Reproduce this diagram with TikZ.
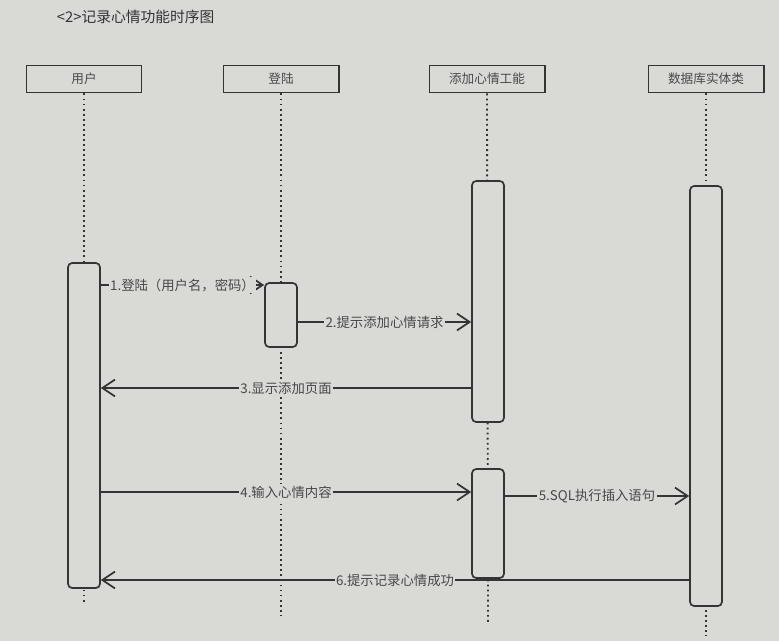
\documentclass[tikz,border=0pt]{standalone}
\usepackage{fontspec}
\newfontfamily\cjk{Noto Sans CJK SC}
\usepackage{xcolor}
\usepackage{tikz}
\usetikzlibrary{arrows.meta}
\usetikzlibrary{positioning}
\definecolor{paper}{RGB}{217,217,214}
\definecolor{ink}{RGB}{52,52,52}
\definecolor{inktext}{RGB}{72,72,72}
\begin{document}
\begin{tikzpicture}[
    x=0.025cm, y=-0.025cm,
    every node/.style={font=\cjk\fontsize{9.5}{11}\selectfont, text=inktext},
    head/.style={draw=ink, line width=1.4pt, fill=paper, minimum width=2.875cm, minimum height=0.675cm, inner sep=0pt, font=\cjk\fontsize{9}{11}\selectfont},
    act/.style={draw=ink, line width=1.2pt, fill=paper, rounded corners=3pt, minimum width=0.8cm, inner sep=0pt},
    life line/.style={draw=ink, line width=1.3pt, dash pattern=on 1.3pt off 2.3pt},
    msg/.style={draw=ink, line width=1.3pt, -{Straight Barb[length=9pt, width=12pt, line width=1.2pt]}},
    msg label/.style={fill=paper, inner sep=1pt},
]

\fill[paper] (0,0) rectangle (779,641);

\node[anchor=west, font=\cjk\fontsize{10.5}{12}\selectfont, text=ink] (title) at (52,17) {<2>记录心情功能时序图};

\node[head] (user) at (84,79) {用户};
\node[head] (login) at (281,79) {登陆};
\node[head] (add) at (487,79) {添加心情工能};
\node[head] (db) at (706,79) {数据库实体类};

\coordinate (user end) at (84,604);
\coordinate (login end) at (281,615);
\coordinate (add end) at (488,622);
\coordinate (db end) at (706,636);

\draw[life line] (user.south) -- (user end);
\draw[life line] (login.south) -- (login end);
\draw[life line] (add.south) -- (add end);
\draw[life line] (db.south) -- (db end);

\node[act, minimum height=8.125cm] (ua) at (84,425.5) {};
\node[act, minimum height=1.6cm] (la) at (281,315) {};
\node[act, minimum height=6.025cm] (aa1) at (488,301.5) {};
\node[act, minimum height=2.725cm] (aa2) at (488,523.5) {};
\node[act, minimum height=10.5cm] (da) at (706,396) {};

\coordinate (m1) at (0,285);
\coordinate (m2) at (0,322);
\coordinate (m3) at (0,388);
\coordinate (m4) at (0,492);
\coordinate (m5) at (0,496);
\coordinate (m6) at (0,580);

\draw[msg] (ua.east |- m1) -- node[msg label] {1.登陆（用户名，密码）} (la.west |- m1);
\draw[msg] (la.east |- m2) -- node[msg label] {2.提示添加心情请求} (aa1.west |- m2);
\draw[msg] (aa1.west |- m3) -- node[msg label] {3.显示添加页面} (ua.east |- m3);
\draw[msg] (ua.east |- m4) -- node[msg label] {4.输入心情内容} (aa2.west |- m4);
\draw[msg] (aa2.east |- m5) -- node[msg label] {5.SQL执行插入语句} (da.west |- m5);
\draw[msg] (da.west |- m6) -- node[msg label] {6.提示记录心情成功} (ua.east |- m6);

\end{tikzpicture}
\end{document}
